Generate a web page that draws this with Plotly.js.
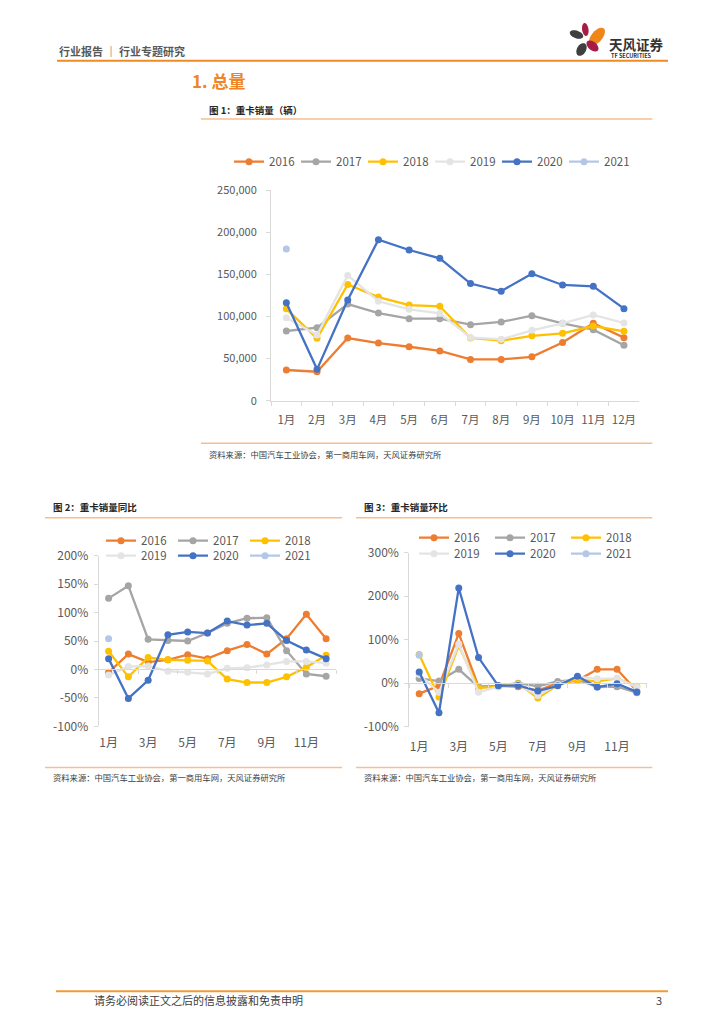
<!DOCTYPE html>
<html><head><meta charset="utf-8">
<script src="https://cdn.plot.ly/plotly-3.0.1.min.js"></script>
<style>html,body{margin:0;padding:0;background:#fff}#chart{width:724px;height:1024px}</style>
</head><body><div id="chart"></div>
<script>
// ---------- data ----------
const months = ['1月','2月','3月','4月','5月','6月','7月','8月','9月','10月','11月','12月'];
const years = ['2016','2017','2018','2019','2020','2021'];

// 图1 重卡销量（辆）
const sales2016 = [36400, 34400, 74400, 68400, 64000, 59000, 49000, 49000, 52000, 69000, 91800, 74800];
const sales2017 = [82700, 86600, 114700, 104000, 97300, 97300, 90200, 93400, 100900, 91800, 84300, 65700];
const sales2018 = [109000, 74000, 138000, 123000, 113500, 112000, 74400, 71200, 77000, 80000, 88600, 82300];
const sales2019 = [98500, 78000, 148700, 118000, 108400, 103600, 75000, 72800, 83500, 91800, 101700, 92200];
const sales2020 = [116300, 37200, 119500, 191000, 178800, 169000, 139000, 130000, 150700, 137300, 135700, 109200];
const sales2021 = [180000];

// 图2 重卡销量同比（%）
const yoy2016 = [-5, 27, 13, 17, 26, 19, 33, 44, 27, 54, 97, 54];
const yoy2017 = [125, 147, 53, 51, 50, 64, 81, 90, 91, 33, -8, -12];
const yoy2018 = [32, -13, 21, 17, 16, 15, -17, -23, -23, -13, 4, 25];
const yoy2019 = [-10, 5, 6, -3, -5, -8, 2, 3, 8, 14, 14, 11];
const yoy2020 = [19, -51, -19, 61, 66, 64, 85, 78, 81, 51, 34, 19];
const yoy2021 = [54];

// 图3 重卡销量环比（%）
const mom2016 = [-24, -6, 114, -8, -6, -8, -17, 0, 6, 32, 32, -18];
const mom2017 = [11, 5, 32, -9, -6, 0, -7, 4, 8, -9, -8, -22];
const mom2018 = [66, -32, 86, -11, -8, -1, -34, -4, 8, 4, 11, -7];
const mom2019 = [20, -21, 90, -21, -8, -4, -28, -3, 15, 10, 11, -9];
const mom2020 = [26, -68, 219, 59, -6, -5, -18, -6, 16, -9, -1, -20];
const mom2021 = [64];

// tick labels
const salesTicks = [0, 50000, 100000, 150000, 200000, 250000];
const salesTickText = ['0', '50,000', '100,000', '150,000', '200,000', '250,000'];
const yoyTicks = [-100, -50, 0, 50, 100, 150, 200];
const yoyTickText = ['-100%', '-50%', '0%', '50%', '100%', '150%', '200%'];
const momTicks = [-100, 0, 100, 200, 300];
const momTickText = ['-100%', '0%', '100%', '200%', '300%'];

// ---------- style ----------
const seriesColors = ['#ED7D31', '#A5A5A5', '#FFC000', '#E4E4E4', '#4472C4', '#B4C7E7'];
const FONT = "'Noto Sans CJK SC', 'Noto Sans', sans-serif";
const W = 724, H = 1024;
const P = x => x / W;
const Q = y => 1 - y / H;

const salesSeries = [sales2016, sales2017, sales2018, sales2019, sales2020, sales2021];
const yoySeries = [yoy2016, yoy2017, yoy2018, yoy2019, yoy2020, yoy2021];
const momSeries = [mom2016, mom2017, mom2018, mom2019, mom2020, mom2021];

function mk(vals, i, xa, ya, legend) {
  return {
    type: 'scatter', mode: 'lines+markers', name: years[i],
    x: months.slice(0, vals.length), y: vals,
    xaxis: xa, yaxis: ya, legend: legend,
    line: {color: seriesColors[i], width: 2.3},
    marker: {color: seriesColors[i], size: 7},
    hoverinfo: 'skip'
  };
}
const data = [];
salesSeries.forEach((v, i) => data.push(mk(v, i, 'x', 'y', 'legend')));
yoySeries.forEach((v, i) => data.push(mk(v, i, 'x2', 'y2', i < 3 ? 'legend2' : 'legend3')));
momSeries.forEach((v, i) => data.push(mk(v, i, 'x3', 'y3', i < 3 ? 'legend4' : 'legend5')));

const axisGray = '#D9D9D9';
const tickFont = s => ({family: FONT, size: s, color: '#595959'});

function zeroPos(dom, rng) { return dom[0] + (0 - rng[0]) / (rng[1] - rng[0]) * (dom[1] - dom[0]); }

const y2dom = [Q(726.3), Q(555.7)], y2rng = [-100, 200];
const y3dom = [Q(726.7), Q(552.7)], y3rng = [-100, 300];

const baseX = {
  type: 'category', categoryorder: 'array', categoryarray: months, range: [-0.5, months.length - 0.5],
  showline: true, linecolor: axisGray, linewidth: 1, tickangle: 0,
  ticks: 'outside', tickson: 'boundaries', ticklen: 4, tickcolor: axisGray,
  showgrid: false, zeroline: false, fixedrange: true
};
const baseY = {
  showline: true, linecolor: axisGray, linewidth: 1,
  ticks: 'outside', ticklen: 4, tickcolor: axisGray,
  showgrid: false, zeroline: false, fixedrange: true
};

function legendCfg(x, y, ew, xanchor) {
  return {
    orientation: 'h', x: x, y: y, xanchor: xanchor || 'left', yanchor: 'middle',
    font: {family: FONT, size: 11.5, color: '#595959'},
    entrywidth: ew, entrywidthmode: 'pixels', bgcolor: 'rgba(0,0,0,0)',
    borderwidth: 0, traceorder: 'normal', itemclick: false, itemdoubleclick: false
  };
}

function ellipse(cx, cy, rx, ry, deg) {
  const a = deg * Math.PI / 180;
  let d = '';
  for (let k = 0; k <= 36; k++) {
    const t = k / 36 * 2 * Math.PI;
    const ex = rx * Math.cos(t), ey = ry * Math.sin(t);
    const px = cx + ex * Math.cos(a) - ey * Math.sin(a);
    const py = cy + ex * Math.sin(a) + ey * Math.cos(a);
    d += (k === 0 ? 'M' : 'L') + P(px).toFixed(5) + ',' + Q(py).toFixed(5);
  }
  return d + 'Z';
}
function hline(x0, x1, y, color, w) {
  return {type: 'line', xref: 'paper', yref: 'paper', x0: P(x0), x1: P(x1), y0: Q(y), y1: Q(y),
          line: {color: color, width: w}};
}
function petal(cx, cy, rx, ry, deg, color) {
  return {type: 'path', xref: 'paper', yref: 'paper', path: ellipse(cx, cy, rx, ry, deg),
          fillcolor: color, line: {width: 0}};
}
const lightOrange = '#F7BE8E';
const shapes = [
  hline(57, 668, 60.7, '#F08A24', 2),
  hline(201, 652.3, 119, lightOrange, 1.5),
  hline(201, 652.3, 443.3, lightOrange, 1.5),
  hline(45, 342, 517.7, lightOrange, 1.5),
  hline(356, 652.3, 517.7, lightOrange, 1.5),
  hline(45, 342, 767.5, lightOrange, 1.5),
  hline(356, 652.3, 767.5, lightOrange, 1.5),
  hline(56, 668, 991.3, '#F29A36', 2),
  petal(585.3, 29.5, 3.2, 6.5, -8, '#A51C45'),
  petal(597, 36.5, 5.5, 10.5, 40, '#F08519'),
  petal(576.5, 34.5, 7, 3.8, 20, '#3F3F3F'),
  petal(592.5, 46, 7, 4.2, 40, '#A51C45'),
  petal(581.5, 49.5, 4.5, 6.8, 30, '#3F3F3F')
];

function ann(text, x, y, size, color, anchor) {
  return {text: text, x: P(x), y: Q(y), xref: 'paper', yref: 'paper', showarrow: false,
          xanchor: anchor || 'left', yanchor: 'middle', font: {family: FONT, size: size, color: color}};
}
const src = '资料来源：中国汽车工业协会，第一商用车网，天风证券研究所';
const annotations = [
  ann('<b>行业报告 ｜ 行业专题研究</b>', 57, 51, 11, '#595959'),
  ann('<b>天风证券</b>', 607, 43.5, 13.5, '#333333'),
  ann('<b>TF SECURITIES</b>', 608.5, 55.5, 5.5, '#333333'),
  ann('<b>1. 总量</b>', 189.5, 80, 17, '#F08526'),
  ann('<b>图 1：重卡销量（辆）</b>', 207, 109.5, 9.5, '#262626'),
  ann(src, 207, 453.5, 8.3, '#404040'),
  ann('<b>图 2：重卡销量同比</b>', 51, 507, 9.5, '#262626'),
  ann('<b>图 3：重卡销量环比</b>', 362, 507, 9.5, '#262626'),
  ann(src, 51, 777, 8.3, '#404040'),
  ann(src, 362, 777, 8.3, '#404040'),
  ann('请务必阅读正文之后的信息披露和免责申明', 91.5, 999.5, 11, '#404040'),
  ann('3', 664, 999.5, 11, '#404040', 'right')
];

const layout = {
  width: W, height: H, margin: {l: 0, r: 0, t: 0, b: 0},
  paper_bgcolor: '#ffffff', plot_bgcolor: 'rgba(0,0,0,0)',
  font: {family: FONT, color: '#595959'},
  xaxis: Object.assign({}, baseX, {domain: [P(271), P(639.3)], anchor: 'y',
          tickfont: tickFont(11.5), ticklabelstandoff: 8}),
  yaxis: Object.assign({}, baseY, {domain: [Q(400.7), Q(190)], anchor: 'x', range: [0, 250000],
          tickvals: salesTicks, ticktext: salesTickText, tickfont: tickFont(11), ticklabelstandoff: 7}),
  xaxis2: Object.assign({}, baseX, {domain: [P(98.7), P(336)], anchor: 'free',
          position: zeroPos(y2dom, y2rng), dtick: 2, tick0: 0,
          tickfont: tickFont(12), ticklabelstandoff: 62}),
  yaxis2: Object.assign({}, baseY, {domain: y2dom, anchor: 'x2', range: y2rng,
          tickvals: yoyTicks, ticktext: yoyTickText, tickfont: tickFont(12), ticklabelstandoff: 3}),
  xaxis3: Object.assign({}, baseX, {domain: [P(409.3), P(646.7)], anchor: 'free',
          position: zeroPos(y3dom, y3rng), dtick: 2, tick0: 0,
          tickfont: tickFont(12), ticklabelstandoff: 52}),
  yaxis3: Object.assign({}, baseY, {domain: y3dom, anchor: 'x3', range: y3rng,
          tickvals: momTicks, ticktext: momTickText, tickfont: tickFont(12), ticklabelstandoff: 3}),
  legend: legendCfg(P(430), Q(161.7), 22, 'center'),
  legend2: legendCfg(P(101), Q(540.7), 27),
  legend3: legendCfg(P(101), Q(555.7), 27),
  legend4: legendCfg(P(414), Q(537.7), 31),
  legend5: legendCfg(P(414), Q(553.7), 31),
  shapes: shapes,
  annotations: annotations,
  showlegend: true
};

Plotly.newPlot('chart', data, layout, {staticPlot: true, displayModeBar: false});
</script>
</body></html>
